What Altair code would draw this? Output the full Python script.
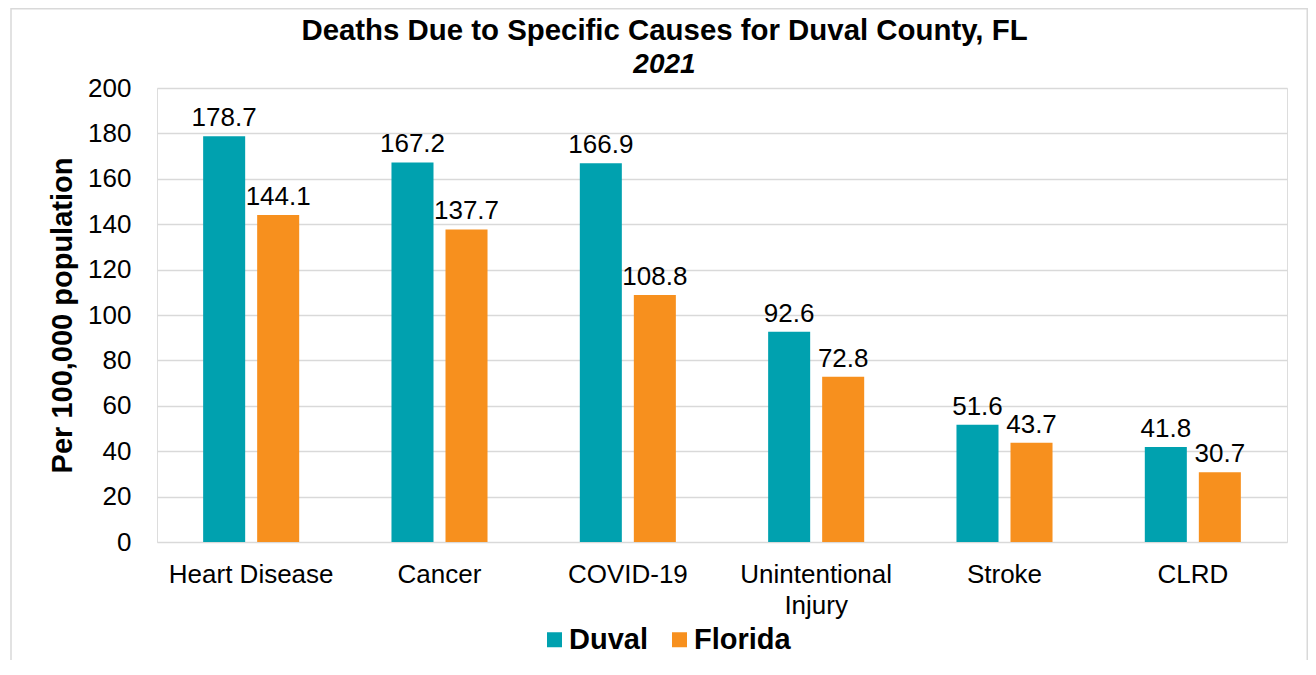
import altair as alt
import pandas as pd

CAUSES = ["Heart Disease", "Cancer", "COVID-19", "Unintentional Injury", "Stroke", "CLRD"]
DUVAL = [178.7, 167.2, 166.9, 92.6, 51.6, 41.8]
FLORIDA = [144.1, 137.7, 108.8, 72.8, 43.7, 30.7]
SERIES = ["Duval", "Florida"]
Y_TICKS = [0, 20, 40, 60, 80, 100, 120, 140, 160, 180, 200]
TITLE = "Deaths Due to Specific Causes for Duval County, FL"
SUBTITLE = "2021"
Y_TITLE = "Per 100,000 population"

rows = []
for c, d, f in zip(CAUSES, DUVAL, FLORIDA):
    rows.append({"cause": c, "area": "Duval", "rate": d})
    rows.append({"cause": c, "area": "Florida", "rate": f})
df = pd.DataFrame(rows)
df["label"] = df["rate"].map(lambda v: f"{v:.1f}")

FONT = "Liberation Sans"
COLORS = ["#00A1AF", "#F7901E"]

x_enc = alt.X("cause:N", sort=CAUSES, title=None,
              scale=alt.Scale(paddingInner=0.49, paddingOuter=0.245),
              axis=alt.Axis(labelAngle=0, labelFontSize=26, labelFont=FONT, labelColor="black",
                            domain=False, ticks=False, grid=False, labelPadding=19,
                            labelLineHeight=31, labelLimit=400,
                            labelExpr="datum.value == 'Unintentional Injury' ? ['Unintentional', 'Injury'] : datum.value"))
xo_enc = alt.XOffset("area:N", sort=SERIES, scale=alt.Scale(paddingInner=0.222, paddingOuter=0))
y_enc = alt.Y("rate:Q", scale=alt.Scale(domain=[0, 200], nice=False),
              axis=alt.Axis(values=Y_TICKS, title=Y_TITLE, titleFont=FONT, titleFontSize=29,
                            titleFontWeight="bold", titleColor="black", titleX=-95, titleY=227,
                            titleAngle=270, titleBaseline="middle", titleAlign="center",
                            labelFontSize=26, labelFont=FONT, labelColor="black", labelPadding=26,
                            domain=False, ticks=False, gridColor="#D9D9D9", gridWidth=1.5))

bars = alt.Chart(df).mark_bar().encode(
    x=x_enc, xOffset=xo_enc, y=y_enc,
    color=alt.Color("area:N", sort=SERIES, scale=alt.Scale(domain=SERIES, range=COLORS),
                    legend=alt.Legend(title=None, orient="none", legendX=383, legendY=537,
                                      direction="horizontal", symbolType="square", symbolSize=225,
                                      symbolStrokeWidth=0, labelFontSize=29, labelFont=FONT,
                                      labelFontWeight="bold", labelColor="black", labelOffset=0,
                                      columnPadding=17, padding=0, labelLimit=300))
)

labels = alt.Chart(df).mark_text(font=FONT, fontSize=26, color="black", baseline="alphabetic",
                                 align="center", dy=-10).encode(
    x=alt.X("cause:N", sort=CAUSES), xOffset=alt.XOffset("area:N", sort=SERIES),
    y=alt.Y("rate:Q"), text="label:N"
)

title_df = pd.DataFrame({"t": [TITLE]})
sub_df = pd.DataFrame({"t": [SUBTITLE]})
title = alt.Chart(title_df).mark_text(font=FONT, fontSize=29.4, fontWeight="bold", color="black",
                                      align="center", baseline="alphabetic").encode(
    text="t:N", x=alt.value(507.5), y=alt.value(-48))
subtitle = alt.Chart(sub_df).mark_text(font=FONT, fontSize=28, fontWeight="bold", fontStyle="italic",
                                       color="black", align="center", baseline="alphabetic").encode(
    text="t:N", x=alt.value(507.5), y=alt.value(-15))
border = alt.Chart(title_df).mark_rect(fill=None, stroke="#D9D9D9", strokeWidth=1.5).encode(
    x=alt.value(-146), x2=alt.value(1150.25), y=alt.value(-79.25), y2=alt.value(700))

chart = alt.layer(border, bars, labels, title, subtitle).properties(
    width=1130, height=454,
    padding={"left": 149, "top": 80, "right": 21, "bottom": 118},
    autosize=alt.AutoSizeParams(type="none"),
).configure_view(stroke="#D9D9D9", strokeWidth=2).configure(background="white")

chart.save("out.html", embed_options={"renderer": "svg", "actions": False})
